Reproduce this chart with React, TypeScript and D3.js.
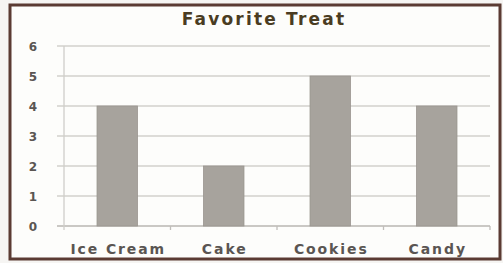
import React from "react";
import * as d3 from "d3";

const categories = ["Ice Cream", "Cake", "Cookies", "Candy"];
const values = [4, 2, 5, 4];
const yTicks = [0, 1, 2, 3, 4, 5, 6];
const title = "Favorite Treat";

export default function App() {
  const W = 503, H = 263;
  const left = 64, right = 490, top = 46, bottom = 226;
  const x = d3.scaleBand<string>().domain(categories).range([left, right]).paddingInner(0.62).paddingOuter(0.31);
  const y = d3.scaleLinear().domain([0, 6]).range([bottom, top]);
  const step = x.step();
  const font = "'DejaVu Sans', 'Open Sans', sans-serif";
  return (
    <svg width={W} height={H} style={{ position: "absolute", left: 0, top: 0, background: "#f6f5f3" }}>
      <rect x={10} y={5} width={490} height={254} fill="#fdfdfb" stroke="#5b3b33" strokeWidth={3} />
      <text x={264} y={25} textAnchor="middle" fontFamily={font} fontWeight={700} fontSize={17} letterSpacing={2.2} fill="#4a3c22">{title}</text>
      {yTicks.map(t => (
        <g key={t}>
          <line x1={57} x2={right} y1={y(t)} y2={y(t)} stroke={t === 0 ? "#b8b6b2" : "#d2d0cc"} strokeWidth={1.3} />
          <text x={33} y={y(t) + 4.5} textAnchor="middle" fontFamily={font} fontWeight={700} fontSize={12} fill="#5a5552">{t}</text>
        </g>
      ))}
      <line x1={left} x2={left} y1={top} y2={bottom + 4} stroke="#d0ceca" strokeWidth={1.3} />
      {categories.map((c, i) => (
        <line key={"t" + i} x1={left + step * (i + 1)} x2={left + step * (i + 1)} y1={bottom} y2={bottom + 4} stroke="#c0beba" strokeWidth={1.3} />
      ))}
      {categories.map((c, i) => (
        <rect key={c} x={x(c)} y={y(values[i])} width={x.bandwidth()} height={y(0) - y(values[i])} fill="#a7a39d" stroke="#99958f" strokeWidth={0.8} />
      ))}
      {categories.map(c => (
        <text key={"l" + c} x={(x(c) as number) + x.bandwidth() / 2 + 1} y={254} textAnchor="middle" fontFamily={font} fontWeight={700} fontSize={14} letterSpacing={1.9} fill="#5a5552">{c}</text>
      ))}
    </svg>
  );
}
